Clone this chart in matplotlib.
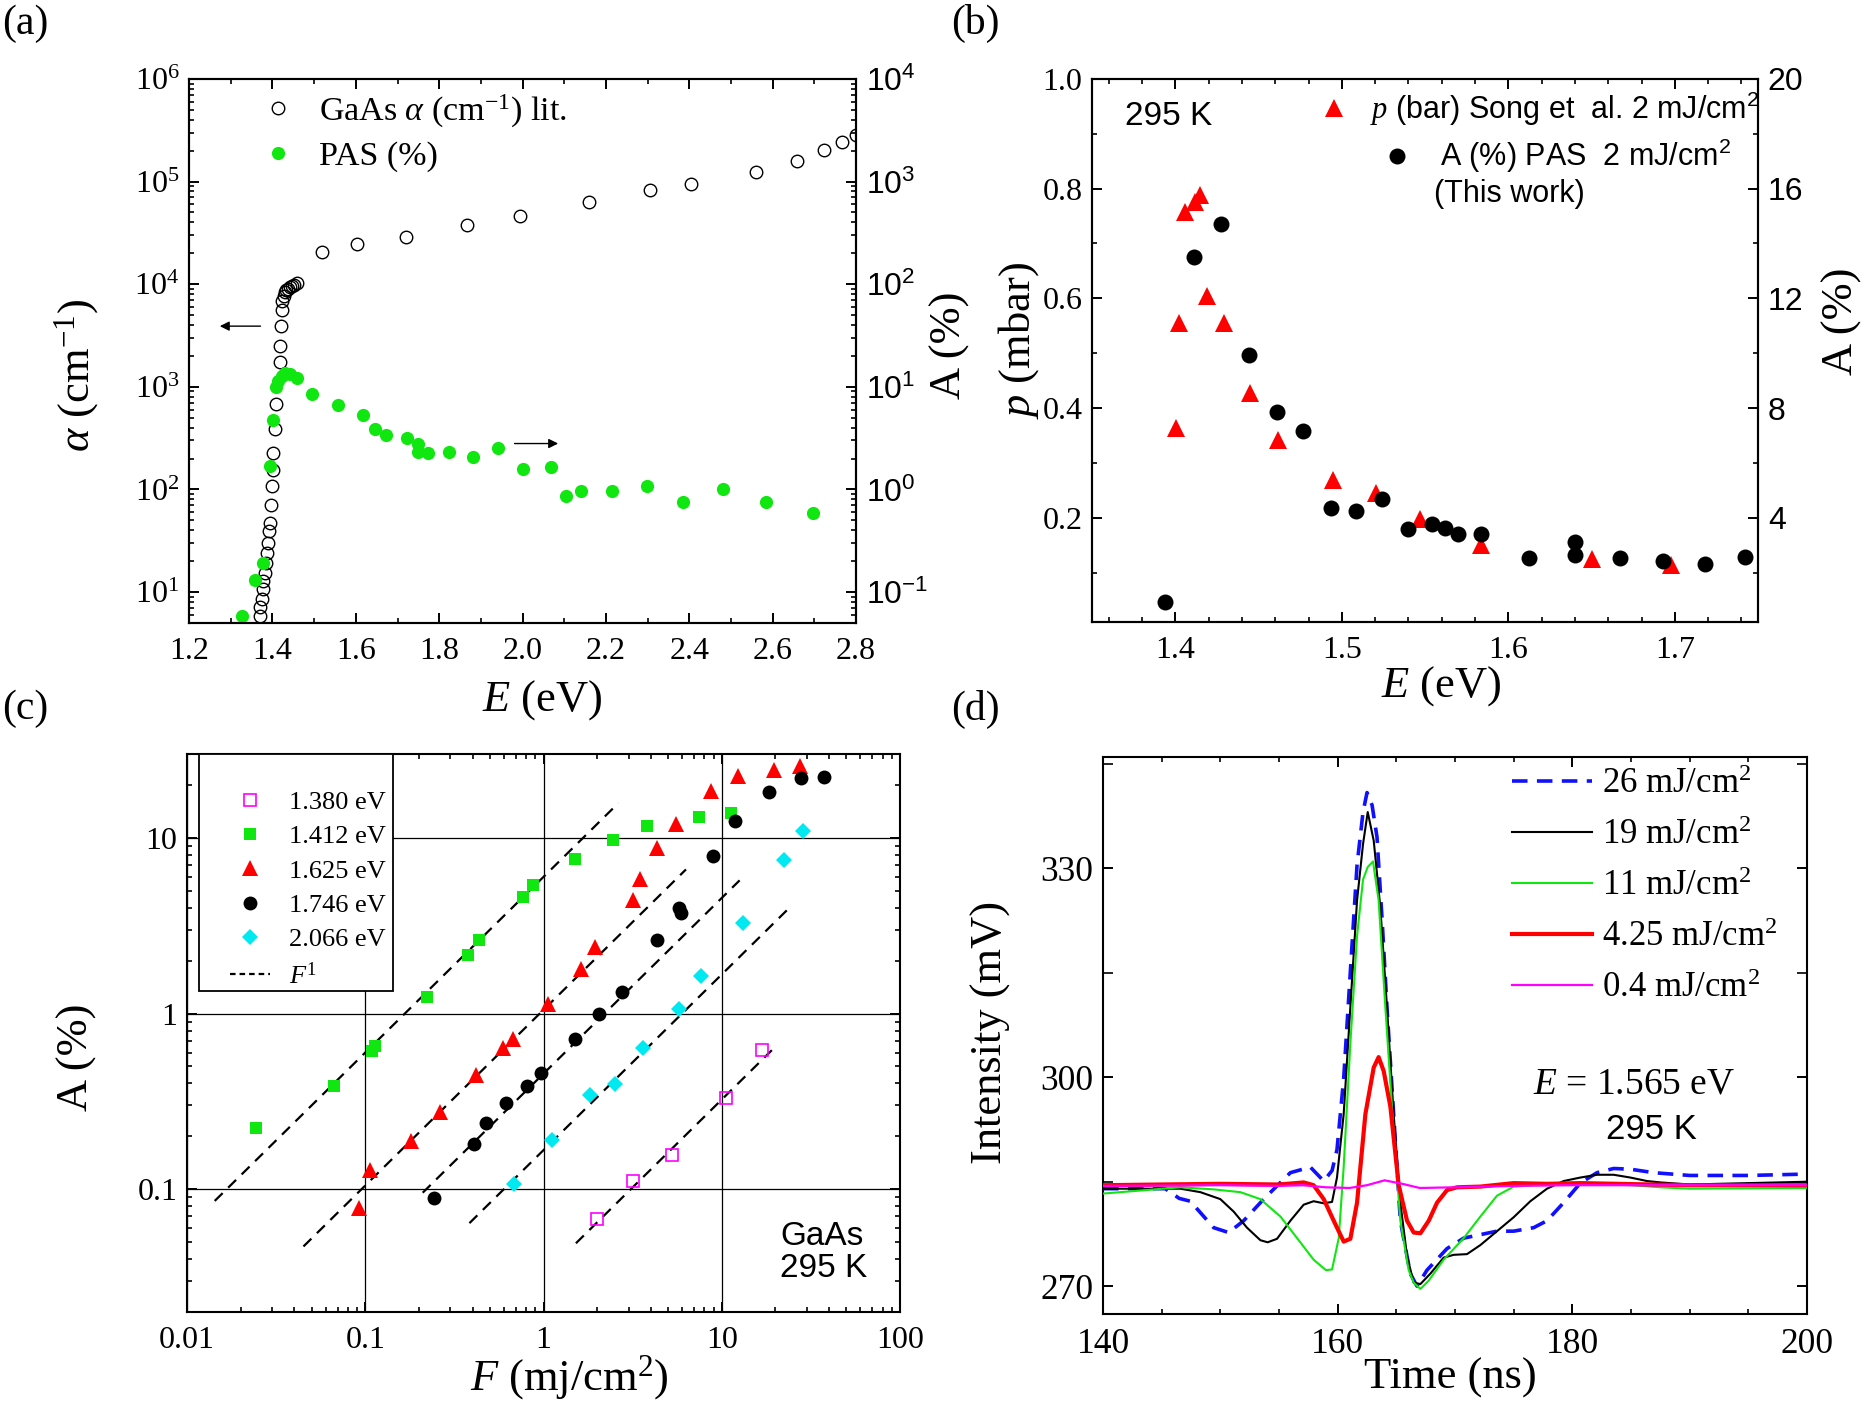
import matplotlib
matplotlib.use('Agg')
import matplotlib.pyplot as plt
import matplotlib.ticker as mticker
from matplotlib.lines import Line2D
from matplotlib.patches import Rectangle
import numpy as np

# ---------------- data: panel (a) ----------------
a_lit_E = [1.370, 1.370, 1.374, 1.377, 1.378, 1.382, 1.385, 1.386, 1.389, 1.391, 1.393,
           1.397, 1.398, 1.401, 1.402, 1.406, 1.409, 1.417, 1.418, 1.420, 1.422, 1.424,
           1.427, 1.430, 1.433, 1.437, 1.441, 1.446, 1.452, 1.458, 1.518, 1.602, 1.721,
           1.866, 1.995, 2.160, 2.305, 2.403, 2.560, 2.659, 2.722, 2.767, 2.800]
a_lit_alpha = [5.9, 7.1, 8.5, 10.7, 12.8, 15.4, 19, 24, 30, 39, 47, 71, 107, 155, 224, 385,
               676, 1760, 2500, 3930, 5600, 6800, 7700, 8300, 8700, 9000, 9300, 9600, 9900,
               10200, 20750, 24500, 28850, 37700, 45900, 62500, 83400, 95300, 124700,
               158000, 204600, 243800, 287000]
a_pas_E = [1.326, 1.358, 1.377, 1.394, 1.401, 1.408, 1.414, 1.422, 1.430, 1.442, 1.460,
           1.494, 1.558, 1.617, 1.645, 1.672, 1.723, 1.748, 1.748, 1.772, 1.824, 1.880,
           1.941, 2.002, 2.069, 2.103, 2.140, 2.215, 2.298, 2.386, 2.480, 2.584, 2.696]
a_pas_A = [0.059, 0.13, 0.193, 1.7, 4.7, 10.0, 11.5, 12.6, 13.6, 13.3, 12.1, 8.5, 6.6, 5.3,
           3.9, 3.4, 3.2, 2.8, 2.3, 2.25, 2.3, 2.07, 2.55, 1.58, 1.65, 0.86, 0.97, 0.97,
           1.09, 0.76, 1.02, 0.76, 0.59]

# ---------------- data: panel (b) ----------------
b_p_E = [1.4004, 1.402, 1.4057, 1.412, 1.415, 1.419, 1.429, 1.445, 1.4615, 1.4947,
         1.5205, 1.547, 1.5834, 1.650, 1.6975]
b_p = [0.363, 0.555, 0.757, 0.7755, 0.788, 0.605, 0.555, 0.427, 0.342, 0.269, 0.245,
       0.1975, 0.151, 0.125, 0.114]
b_A_E = [1.3936, 1.411, 1.4276, 1.4445, 1.4611, 1.4767, 1.4933, 1.5088, 1.5244, 1.540,
         1.554, 1.562, 1.5696, 1.5837, 1.6127, 1.640, 1.640, 1.6671, 1.6926, 1.7184, 1.742]
b_A = [0.93, 13.5, 14.7, 9.93, 7.84, 7.18, 4.37, 4.24, 4.70, 3.60, 3.78, 3.62, 3.40, 3.40,
       2.53, 3.11, 2.64, 2.53, 2.44, 2.32, 2.56]

# ---------------- data: panel (c) ----------------
c_labels = ['1.380 eV', '1.412 eV', '1.625 eV', '1.746 eV', '2.066 eV']
c_F_1380 = [2.00, 3.16, 5.27, 10.5, 16.8]
c_A_1380 = [0.0673, 0.112, 0.156, 0.329, 0.618]
c_F_1412 = [0.0243, 0.0668, 0.109, 0.1135, 0.223, 0.378, 0.434, 0.766, 0.871, 1.50, 2.47,
            3.80, 7.45, 11.3]
c_A_1412 = [0.223, 0.388, 0.611, 0.652, 1.25, 2.15, 2.64, 4.62, 5.36, 7.58, 9.77, 11.7,
            13.1, 13.8]
c_F_1625 = [0.0917, 0.1066, 0.181, 0.264, 0.418, 0.594, 0.671, 1.064, 1.63, 1.95, 3.16,
            3.46, 4.32, 5.52, 8.74, 12.4, 19.6, 27.4]
c_A_1625 = [0.0785, 0.128, 0.188, 0.276, 0.447, 0.641, 0.713, 1.14, 1.80, 2.39, 4.46, 5.81,
            8.73, 12.0, 18.4, 22.5, 24.4, 25.8]
c_F_1746 = [0.242, 0.408, 0.476, 0.617, 0.813, 0.970, 1.50, 2.04, 2.77, 4.32, 5.78, 5.87,
            8.95, 11.9, 18.4, 28.0, 37.5]
c_A_1746 = [0.0894, 0.180, 0.237, 0.310, 0.388, 0.458, 0.721, 1.00, 1.33, 2.61, 4.01, 3.73,
            7.94, 12.5, 18.2, 21.8, 22.3]
c_F_2066 = [0.687, 1.11, 1.82, 2.53, 3.60, 5.74, 7.62, 13.2, 22.3, 28.5]
c_A_2066 = [0.1067, 0.190, 0.345, 0.397, 0.641, 1.06, 1.64, 3.28, 7.45, 10.9]
# linear (F^1) guide lines: A = k * F over [F_start, F_end]
c_fit_k = [0.0324, 6.0, 1.05, 0.455, 0.167]
c_fit_F = [[1.52, 19.1], [0.0143, 2.63], [0.045, 6.3], [0.21, 12.6], [0.384, 23.9]]

# ---------------- data: panel (d) ----------------
d_labels = ['26 mJ/cm$^2$', '19 mJ/cm$^2$', '11 mJ/cm$^2$', '4.25 mJ/cm$^2$', '0.4 mJ/cm$^2$']
d_t_26 = [140, 145.3, 146.5, 147.44, 149.43, 150.71, 151.99, 153.69, 155.97, 157.67, 158.81,
          159.52, 159.94, 160.51, 161.08, 161.65, 162.16, 162.5, 162.93, 163.35, 163.78,
          164.2, 164.77, 165.34, 166.19, 166.76, 167.61, 169.32, 170.74, 172.16, 173.58,
          175, 176.7, 177.84, 179.26, 180.68, 182.1, 183.52, 184.94, 186.93, 190, 195, 200]
d_V_26 = [284.0, 284.0, 282.6, 282.2, 278.4, 277.7, 279.4, 282.5, 286.3, 287.1, 285.1,
          286.6, 289.6, 299.8, 315.2, 330.5, 338.1, 340.9, 339.1, 334.5, 322.8, 310.1,
          294.7, 279.4, 271.8, 270.0, 272.3, 275.4, 276.9, 277.4, 277.9, 277.9, 278.4,
          279.4, 282.0, 284.8, 286.3, 286.9, 286.8, 286.3, 285.9, 285.9, 286.1]
d_t_19 = [140, 144, 146.59, 148.3, 150, 151.14, 152.27, 153.41, 154.03, 154.83, 155.97,
          157.1, 157.95, 158.81, 159.52, 159.94, 160.51, 161.08, 161.65, 162.16, 162.56,
          163.07, 163.64, 164.2, 164.77, 165.34, 165.91, 166.48, 167.05, 167.9, 169.03,
          169.89, 171.02, 172.16, 173.58, 175, 176.42, 177.84, 179.26, 180.68, 182.1,
          183.52, 184.94, 186.36, 187.5, 190, 195, 200]
d_V_19 = [284.0, 284.0, 284.0, 283.5, 282.5, 280.7, 278.4, 276.6, 276.3, 276.8, 279.4,
          281.7, 282.2, 281.9, 282.1, 285.6, 294.7, 310.1, 325.4, 333.5, 338.1, 334.0,
          324.3, 310.1, 294.7, 282.0, 274.3, 270.5, 270.3, 271.8, 274.1, 274.5, 274.6,
          275.9, 277.9, 279.9, 282.2, 284.0, 285.1, 285.6, 286.0, 286.0, 285.6, 285.1,
          284.9, 284.6, 284.8, 285.0]
d_t_11 = [140, 146.59, 149.43, 151.71, 153.41, 155.12, 156.54, 157.95, 159.0, 159.52,
          160.09, 160.51, 161.08, 161.65, 162.16, 162.56, 163.01, 163.49, 164.06, 164.77,
          165.34, 166.05, 166.48, 167.05, 167.76, 169.03, 170.74, 172.16, 173.58, 175,
          177.84, 180.68, 183.52, 187.5, 190, 200]
d_V_11 = [283.3, 284.2, 283.9, 283.5, 282.5, 280.0, 276.9, 273.8, 272.3, 272.4, 276.9,
          287.1, 304.9, 320.3, 328.4, 330.2, 331.0, 325.4, 310.1, 292.2, 279.4, 272.3,
          270.5, 269.6, 270.8, 273.8, 276.9, 280.0, 283.0, 284.3, 284.6, 284.7, 284.7,
          284.2, 284.0, 284.1]
d_t_425 = [140, 150, 155, 157.1, 157.95, 158.81, 159.66, 160.51, 161.08, 161.65, 162.36,
           163.07, 163.49, 163.92, 164.49, 165.2, 165.91, 166.48, 167.05, 167.76, 168.47,
           169.32, 170.17, 172.16, 175, 177.84, 180.68, 190, 200]
d_V_425 = [284.5, 284.7, 284.6, 284.9, 284.5, 282.5, 279.4, 276.4, 276.8, 282.0, 294.7,
           301.4, 302.9, 300.9, 295.8, 284.5, 279.4, 277.7, 277.6, 279.4, 282.0, 283.8,
           284.2, 284.3, 284.8, 284.7, 284.8, 284.5, 284.5]
d_t_04 = [140, 150, 155, 157, 159, 161, 162.5, 164, 165.5, 167, 170, 175, 180, 200]
d_V_04 = [284.4, 284.5, 284.4, 284.5, 284.2, 284.1, 284.5, 285.2, 284.7, 284.1, 284.2,
          284.4, 284.5, 284.5]

# ---------------- style ----------------
GREEN = '#10e610'
CYAN = '#00e8f0'
MAGENTA = '#ff00ff'
BLUE = '#1010ff'
SANS = 'Liberation Sans'
TICK = 23
TICK_D = 25.5
LAB = 32

plt.rcParams.update({
    'font.family': 'Liberation Serif',
    'mathtext.fontset': 'custom',
    'mathtext.rm': 'Liberation Serif',
    'mathtext.it': 'Liberation Serif:italic',
    'mathtext.default': 'regular',
    'axes.linewidth': 1.5,
    'xtick.direction': 'in', 'ytick.direction': 'in',
    'xtick.major.size': 7, 'ytick.major.size': 7,
    'xtick.minor.size': 3.5, 'ytick.minor.size': 3.5,
    'xtick.major.width': 1.4, 'ytick.major.width': 1.4,
    'xtick.minor.width': 1.2, 'ytick.minor.width': 1.2,
    'xtick.major.pad': 10, 'ytick.major.pad': 7,
    'axes.unicode_minus': True,
})

fig = plt.figure(figsize=(18.61, 14.04), dpi=100)

# ======================= (a) =======================
axA = fig.add_axes([0.1016, 0.5563, 0.3584, 0.3875])
axA.set_xlim(1.2, 2.8)
axA.set_yscale('log')
axA.set_ylim(5, 1e6)
axA.plot(a_lit_E, a_lit_alpha, ls='none', marker='o', mfc='none', mec='k', ms=9, mew=1.0)
axA.xaxis.set_major_locator(mticker.MultipleLocator(0.2))
axA.xaxis.set_minor_locator(mticker.MultipleLocator(0.1))
axA.xaxis.set_major_formatter(mticker.FormatStrFormatter('%.1f'))
axA.yaxis.set_major_locator(mticker.LogLocator(base=10, numticks=12))
axA.yaxis.set_minor_locator(mticker.LogLocator(base=10, subs=np.arange(2, 10), numticks=12))
axA.yaxis.set_minor_formatter(mticker.NullFormatter())
axA.tick_params(axis='x', which='both', top=True, labelsize=TICK)
axA.tick_params(axis='y', which='both', right=False, labelsize=TICK)
axA.set_xlabel(r'$\mathit{E}$ (eV)', fontsize=LAB, va='center')
axA.xaxis.set_label_coords(0.53, -0.142)
axA.set_ylabel(r'$\mathit{\alpha}$ (cm$^{-1}$)', fontsize=LAB, va='center')
axA.yaxis.set_label_coords(-0.168, 0.454)
axA.annotate('', xy=(1.267, 3900), xytext=(1.378, 3900),
             arrowprops=dict(arrowstyle='-|>', color='k', lw=1.0, mutation_scale=14))
axA.annotate('', xy=(2.092, 280), xytext=(1.974, 280),
             arrowprops=dict(arrowstyle='-|>', color='k', lw=1.0, mutation_scale=14))

axA2 = axA.twinx()
axA2.set_yscale('log')
axA2.set_ylim(0.05, 1e4)
axA2.plot(a_pas_E, a_pas_A, ls='none', marker='o', color=GREEN, ms=9.5, mew=0)
axA2.yaxis.set_major_locator(mticker.LogLocator(base=10, numticks=12))
axA2.yaxis.set_minor_locator(mticker.LogLocator(base=10, subs=np.arange(2, 10), numticks=12))
axA2.yaxis.set_minor_formatter(mticker.NullFormatter())
axA2.tick_params(axis='y', which='both', labelsize=TICK, labelfontfamily=SANS)
axA2.set_ylabel('A (%)', fontsize=LAB, va='center', rotation=90)
axA2.yaxis.set_label_coords(1.14, 0.51)
hA = [Line2D([], [], ls='none', marker='o', mfc='none', mec='k', ms=9, mew=1.0),
      Line2D([], [], ls='none', marker='o', color=GREEN, ms=9.5, mew=0)]
axA2.legend(hA, [r'GaAs $\mathit{\alpha}$ (cm$^{-1}$) lit.', 'PAS (%)'],
            loc='upper left', bbox_to_anchor=(0.108, 0.975), frameon=False, fontsize=24.5,
            handlelength=1.0, handletextpad=0.7, borderpad=0, borderaxespad=0,
            labelspacing=0.33)

# ======================= (b) =======================
axB = fig.add_axes([0.5868, 0.557, 0.3579, 0.3868])
axB.set_xlim(1.35, 1.75)
axB.set_ylim(0.01, 1.0)
axB.plot(b_p_E, b_p, ls='none', marker='^', color='red', ms=13, mew=0)
axB.xaxis.set_major_locator(mticker.MultipleLocator(0.1))
axB.xaxis.set_minor_locator(mticker.MultipleLocator(0.02))
axB.yaxis.set_major_locator(mticker.MultipleLocator(0.2))
axB.yaxis.set_minor_locator(mticker.MultipleLocator(0.1))
axB.yaxis.set_major_formatter(mticker.FormatStrFormatter('%.1f'))
axB.tick_params(axis='x', which='both', top=True, labelsize=TICK)
axB.tick_params(axis='y', which='both', right=False, labelsize=TICK)
axB.set_xlabel(r'$\mathit{E}$ (eV)', fontsize=LAB, va='center')
axB.xaxis.set_label_coords(0.524, -0.118)
axB.set_ylabel(r'$\mathit{p}$ (mbar)', fontsize=LAB, va='center')
axB.yaxis.set_label_coords(-0.111, 0.519)

axB2 = axB.twinx()
axB2.set_ylim(0.2, 20)
axB2.plot(b_A_E, b_A, ls='none', marker='o', color='k', ms=11.5, mew=0)
axB2.yaxis.set_major_locator(mticker.MultipleLocator(4))
axB2.yaxis.set_minor_locator(mticker.MultipleLocator(2))
axB2.tick_params(axis='y', which='both', labelsize=TICK, labelfontfamily=SANS)
axB2.set_ylabel('A (%)', fontsize=LAB, va='center', rotation=90)
axB2.yaxis.set_label_coords(1.125, 0.554)
legB1 = axB2.legend([Line2D([], [], ls='none', marker='^', color='red', ms=13, mew=0)],
                    [r'$\mathit{p}$ (bar) Song et  al. 2 mJ/cm$^2$'],
                    loc='upper left', bbox_to_anchor=(0.341, 0.98), frameon=False,
                    prop={'family': SANS, 'size': 22}, handlelength=1.0,
                    handletextpad=0.66, borderpad=0, borderaxespad=0)
axB2.add_artist(legB1)
axB2.legend([Line2D([], [], ls='none', marker='o', color='k', ms=11.5, mew=0)],
            ['A (%) PAS  2 mJ/cm$^2$'],
            loc='upper left', bbox_to_anchor=(0.4354, 0.893), frameon=False,
            prop={'family': SANS, 'size': 22}, handlelength=1.0,
            handletextpad=0.89, borderpad=0, borderaxespad=0)
axB2.text(0.5135, 0.788, '(This work)', transform=axB.transAxes, fontsize=22,
          family=SANS, ha='left', va='center')
axB.text(0.05, 0.93, '295 K', transform=axB.transAxes, fontsize=24, family=SANS,
         ha='left', va='center')

# ======================= (c) =======================
axC = fig.add_axes([0.1005, 0.0655, 0.3831, 0.3974])
axC.set_xscale('log')
axC.set_yscale('log')
axC.set_xlim(0.01, 100)
axC.set_ylim(0.02, 30)
axC.set_axisbelow(True)
axC.grid(True, which='major', color='k', lw=0.9)
fmt = mticker.FuncFormatter(lambda v, p: f'{v:g}')
axC.xaxis.set_major_formatter(fmt)
axC.yaxis.set_major_formatter(fmt)
for axis in (axC.xaxis, axC.yaxis):
    axis.set_major_locator(mticker.LogLocator(base=10, numticks=12))
    axis.set_minor_locator(mticker.LogLocator(base=10, subs=np.arange(2, 10), numticks=12))
    axis.set_minor_formatter(mticker.NullFormatter())
axC.tick_params(which='both', top=True, right=True, labelsize=TICK)

for k, (f0, f1) in zip(c_fit_k, c_fit_F):
    fx = np.array([f0, f1])
    axC.plot(fx, k * fx, color='k', lw=1.6, dashes=(5, 3.5), zorder=2)

c_styles = [dict(marker='s', mfc='none', mec=MAGENTA, ms=8, mew=1.2),
            dict(marker='s', color=GREEN, ms=9, mew=0),
            dict(marker='^', color='red', ms=12, mew=0),
            dict(marker='o', color='k', ms=10, mew=0),
            dict(marker='D', color=CYAN, ms=8.5, mew=0)]
c_series = [(c_F_1380, c_A_1380), (c_F_1412, c_A_1412), (c_F_1625, c_A_1625),
            (c_F_1746, c_A_1746), (c_F_2066, c_A_2066)]
hC = []
for (fx, ay), st in zip(c_series, c_styles):
    axC.plot(fx, ay, ls='none', zorder=3, **st)
    hC.append(Line2D([], [], ls='none', **st))
hC.append(Line2D([], [], color='k', lw=1.6, dashes=(2.5, 1.8)))
# legend box
axC.add_patch(Rectangle((0.0168, 0.575), 0.2722, 0.425, transform=axC.transAxes,
                        facecolor='white', edgecolor='k', lw=1.3, zorder=4))
legC = axC.legend(hC, c_labels + [r'$\mathit{F}^{1}$'], loc='upper left',
                  bbox_to_anchor=(0.0603, 0.9346), fontsize=19, frameon=False,
                  borderpad=0, borderaxespad=0,
                  handlelength=1.5, handletextpad=0.73, labelspacing=0.41)
legC.set_zorder(5)
axC.text(0.832, 0.106, 'GaAs\n295 K', transform=axC.transAxes, fontsize=24, family=SANS,
         ha='left', va='center', linespacing=1.05)
axC.set_xlabel(r'$\mathit{F}$ (mj/cm$^2$)', fontsize=LAB, va='center')
axC.xaxis.set_label_coords(0.536, -0.118)
axC.set_ylabel('A (%)', fontsize=LAB, va='center')
axC.yaxis.set_label_coords(-0.154, 0.457)

# ======================= (d) =======================
axD = fig.add_axes([0.5927, 0.0641, 0.3783, 0.3967])
axD.set_xlim(140, 200)
axD.set_ylim(266, 346)
axD.plot(d_t_26, d_V_26, color=BLUE, lw=2.6, dashes=(4.3, 2.6), label=d_labels[0], zorder=3)
axD.plot(d_t_19, d_V_19, color='k', lw=1.5, label=d_labels[1], zorder=4)
axD.plot(d_t_11, d_V_11, color=GREEN, lw=1.5, label=d_labels[2], zorder=4)
axD.plot(d_t_425, d_V_425, color='red', lw=3.0, label=d_labels[3], zorder=5)
axD.plot(d_t_04, d_V_04, color=MAGENTA, lw=1.6, label=d_labels[4], zorder=6)
axD.xaxis.set_major_locator(mticker.MultipleLocator(20))
axD.xaxis.set_minor_locator(mticker.MultipleLocator(5))
axD.yaxis.set_major_locator(mticker.MultipleLocator(30))
axD.yaxis.set_minor_locator(mticker.MultipleLocator(15))
axD.tick_params(which='both', top=True, right=True, labelsize=TICK_D)
axD.tick_params(axis='y', which='minor', length=7)
axD.set_xlabel('Time (ns)', fontsize=LAB, va='center')
axD.xaxis.set_label_coords(0.493, -0.115)
axD.set_ylabel('Intensity (mV)', fontsize=LAB, va='center')
axD.yaxis.set_label_coords(-0.159, 0.506)
axD.legend(loc='upper left', bbox_to_anchor=(0.581, 0.98), frameon=False, fontsize=25,
           handlelength=2.3, handletextpad=0.3, borderpad=0, borderaxespad=0,
           labelspacing=0.52)
axD.text(0.611, 0.413, r'$\mathit{E}$ = 1.565 eV', transform=axD.transAxes, fontsize=27,
         ha='left', va='center')
axD.text(0.714, 0.332, '295 K', transform=axD.transAxes, fontsize=25, family=SANS,
         ha='left', va='center')

# ---------------- panel letters ----------------
fig.text(0.001, 0.983, '(a)', fontsize=30, ha='left', va='center')
fig.text(0.511, 0.983, '(b)', fontsize=30, ha='left', va='center')
fig.text(0.001, 0.495, '(c)', fontsize=30, ha='left', va='center')
fig.text(0.511, 0.495, '(d)', fontsize=30, ha='left', va='center')

fig.savefig('out.png', dpi=100)
